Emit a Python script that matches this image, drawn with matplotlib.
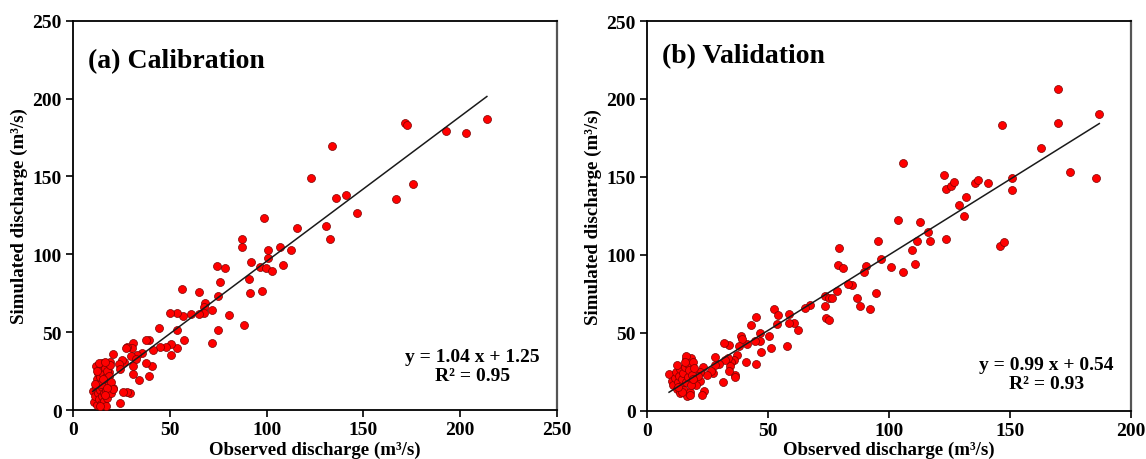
import numpy as np
import matplotlib.pyplot as plt

plt.rcParams["font.family"] = ["Liberation Serif", "DejaVu Serif"]
plt.rcParams["font.weight"] = "bold"

# calibration period: observed vs simulated discharge (m3/s)
cal_obs = [
    171.4, 172.7, 133.8, 122.9, 192.7, 202.8, 213.8, 175.8, 166.7, 135.7,
    140.8, 146.7, 130.9, 115.7, 132.7, 112.8, 108.6, 98.7, 87.5, 87.3,
    100.7, 106.8, 100.7, 96.4, 99.8, 102.8, 91.8, 74.4, 78.3, 76.1,
    90.9, 91.3, 97.6, 75.1, 56.1, 65.2, 68.4, 67.7, 71.6, 67.5,
    65.2, 61.0, 56.6, 80.6, 88.3, 74.9, 71.6, 57.2, 53.6, 50.1,
    53.6, 53.6, 50.8, 50.6, 48.2, 44.6, 44.8, 41.2, 40.8, 39.4,
    37.5, 39.4, 37.5, 35.5, 32.9, 31.2, 30.5, 30.0, 32.5, 34.1,
    30.8, 31.0, 28.1, 27.5, 29.4, 27.9, 25.7, 24.4, 26.3, 25.5,
    23.9, 24.3, 20.8, 20.5, 19.1, 18.8,
    10.5, 11.0, 11.5, 11.8, 12.0, 12.2, 12.5, 12.8, 13.0, 13.2,
    13.5, 13.8, 14.0, 14.2, 14.5, 14.8, 15.0, 15.2, 15.5, 15.8,
    16.0, 16.2, 16.5, 16.8, 17.0, 17.2, 17.5, 17.8, 18.0, 18.3,
    18.6, 19.0, 19.5, 19.8, 20.5, 13.3, 12.3, 14.6, 16.3, 11.3,
    15.7, 17.6, 13.9, 16.6,
]
cal_sim = [
    184.4, 183.0, 169.5, 148.9, 178.9, 177.6, 187.0, 145.0, 135.6, 136.4,
    138.0, 126.8, 118.3, 116.8, 109.5, 103.0, 93.4, 123.6, 109.9, 104.8,
    102.6, 105.0, 97.9, 92.1, 91.3, 89.1, 95.3, 92.5, 91.0, 82.1,
    84.4, 75.0, 76.7, 73.3, 77.6, 75.8, 68.6, 66.4, 64.3, 62.3,
    61.5, 61.5, 60.4, 61.0, 54.8, 51.2, 42.9, 45.0, 62.5, 62.5,
    51.4, 39.8, 35.1, 42.2, 40.5, 52.5, 40.3, 38.8, 28.1, 45.0,
    44.8, 21.9, 30.4, 36.4, 35.3, 43.3, 40.0, 34.9, 32.6, 19.1,
    22.9, 28.5, 40.3, 39.8, 10.7, 11.6, 11.6, 4.7, 31.0, 32.1,
    29.4, 26.4, 36.0, 13.9, 30.7, 24.2,
    12.5, 5.0, 9.0, 15.0, 28.0, 20.0, 3.5, 24.0, 11.0, 17.0,
    7.0, 13.0, 26.0, 21.0, 4.0, 9.0, 30.0, 15.0, 23.0, 11.0,
    6.0, 18.0, 27.0, 13.0, 2.5, 21.0, 8.0, 25.0, 16.0, 12.0,
    22.0, 29.0, 18.0, 11.0, 13.5, 30.0, 25.0, 17.0, 31.0, 17.0,
    20.0, 14.0, 2.8, 9.5,
]

# validation period
val_obs = [
    169.8, 186.6, 169.8, 146.8, 162.7, 105.8, 174.7, 185.7, 150.7, 150.7,
    122.7, 123.7, 125.8, 127.0, 135.7, 136.6, 140.9, 131.8, 128.8, 130.9,
    103.9, 112.9, 95.6, 116.0, 111.7, 116.8, 123.7, 145.7, 147.6, 109.6,
    96.6, 90.4, 89.5, 101.0, 110.7, 105.8, 84.8, 94.5, 86.8, 88.1,
    92.3, 79.3, 79.0, 81.1, 83.1, 78.6, 73.7, 75.2, 76.6, 73.4,
    74.0, 75.3, 67.4, 65.4, 62.4, 58.7, 60.7, 58.7, 57.7, 52.4,
    54.0, 53.7, 50.4, 51.1, 46.8, 46.8, 47.0, 44.6, 45.2, 45.2,
    43.1, 41.0, 41.2, 39.0, 39.3, 38.0, 37.1, 36.1, 36.5, 36.2,
    34.6, 34.4, 33.5, 33.9, 31.8, 33.8, 32.4, 31.4, 29.6, 28.0,
    28.0, 27.1, 26.3, 24.7, 23.3, 23.7, 22.9, 21.9, 21.9, 21.0,
    20.2, 18.5,
    9.1, 10.2, 10.8, 11.5, 12.0, 12.3, 12.8, 13.2, 13.5, 13.8,
    14.2, 14.6, 15.0, 15.3, 15.6, 15.9, 16.2, 16.5, 16.8, 17.1,
    17.4, 17.7, 18.0, 18.2, 18.5, 18.8, 19.1, 19.4, 16.0, 14.5,
    12.5, 17.8, 13.0, 15.8,
]
val_sim = [
    206.6, 190.4, 184.8, 183.5, 168.7, 158.9, 153.1, 149.2, 149.2, 141.5,
    150.9, 142.4, 144.1, 146.7, 145.8, 147.7, 146.2, 137.2, 131.9, 124.8,
    122.4, 120.7, 109.1, 114.5, 108.9, 108.9, 110.2, 105.5, 107.9, 103.0,
    97.2, 92.7, 89.2, 92.4, 94.3, 89.0, 80.5, 75.5, 72.3, 67.4,
    65.4, 104.6, 93.1, 91.4, 80.9, 76.8, 73.8, 72.3, 72.5, 67.0,
    59.3, 58.2, 68.0, 66.1, 51.5, 61.8, 56.0, 56.4, 41.6, 65.0,
    61.6, 55.4, 47.9, 40.4, 49.6, 44.7, 37.6, 44.9, 59.9, 29.9,
    54.8, 31.0, 42.7, 47.7, 46.0, 41.5, 35.9, 32.6, 23.0, 21.7,
    31.2, 28.8, 33.5, 41.9, 43.6, 25.2, 32.5, 18.1, 29.9, 34.2,
    29.2, 24.1, 25.6, 22.8, 28.1, 12.7, 10.0, 24.9, 19.2, 22.4,
    16.4, 28.4,
    23.5, 19.2, 16.5, 21.0, 24.5, 14.0, 18.5, 22.0, 26.5, 11.5,
    16.0, 20.0, 24.0, 13.0, 28.0, 33.0, 18.0, 9.0, 21.5, 30.0,
    26.0, 12.0, 34.0, 16.5, 23.0, 31.0, 20.0, 27.0, 35.0, 12.0,
    29.0, 10.0, 15.0, 31.0,
]

# trend lines as drawn in the figure
cal_line_x = [10.2, 213.8]
cal_line = (0.93, 2.5)
val_line_x = [9.1, 186.9]
val_line = (0.97, 2.9)

cal_eq = "y = 1.04 x + 1.25\nR\u00b2 = 0.95"
val_eq = "y = 0.99 x + 0.54\nR\u00b2 = 0.93"

panels = [
    ("(a) Calibration", cal_obs, cal_sim, cal_line_x, cal_line, cal_eq,
     250, [0.0637, 0.1065, 0.4223, 0.8463], 0.882, 0.113),
    ("(b) Validation", val_obs, val_sim, val_line_x, val_line, val_eq,
     200, [0.5646, 0.1054, 0.4223, 0.8467], 0.895, 0.094),
]

fig = plt.figure(figsize=(11.46, 4.6), dpi=100)

for title, xo, ys, lx, (a, b), eq, xmax, rect, ty, ey in panels:
    ax = fig.add_axes(rect)
    ax.scatter(xo, ys, s=33, c="#ff0000", edgecolors="#7a0000",
               linewidths=0.5, zorder=3)
    lx = np.array(lx)
    ax.plot(lx, a * lx + b, color="#1a1a1a", lw=1.1, zorder=4)

    ax.set_xlim(0, xmax)
    ax.set_ylim(0, 250)
    ax.set_xticks(np.arange(0, xmax + 1, 50))
    ax.set_yticks(np.arange(0, 251, 50))
    ax.tick_params(direction="out", length=5, width=1.2, labelsize=14,
                   pad=3, top=False, right=False)
    for lab in ax.get_xticklabels() + ax.get_yticklabels():
        lab.set_fontweight("bold")
    for side in ["left", "bottom", "top"]:
        ax.spines[side].set_linewidth(1.3)
        ax.spines[side].set_color("black")
    ax.spines["right"].set_linewidth(1.6)
    ax.spines["right"].set_color("#555555")

    ax.set_xlabel("Observed discharge (m\u00b3/s)", fontsize=13.6,
                  fontweight="bold", labelpad=1.5)
    ax.set_ylabel("Simulated discharge (m\u00b3/s)", fontsize=13.6,
                  fontweight="bold", labelpad=3)
    ax.text(0.03, ty, title, transform=ax.transAxes, fontsize=20,
            fontweight="bold", ha="left", va="baseline")
    ax.text(0.825, ey, eq, transform=ax.transAxes, fontsize=14,
            fontweight="bold", ha="center", va="center", linespacing=1.2)

fig.savefig("out.png", dpi=100)
